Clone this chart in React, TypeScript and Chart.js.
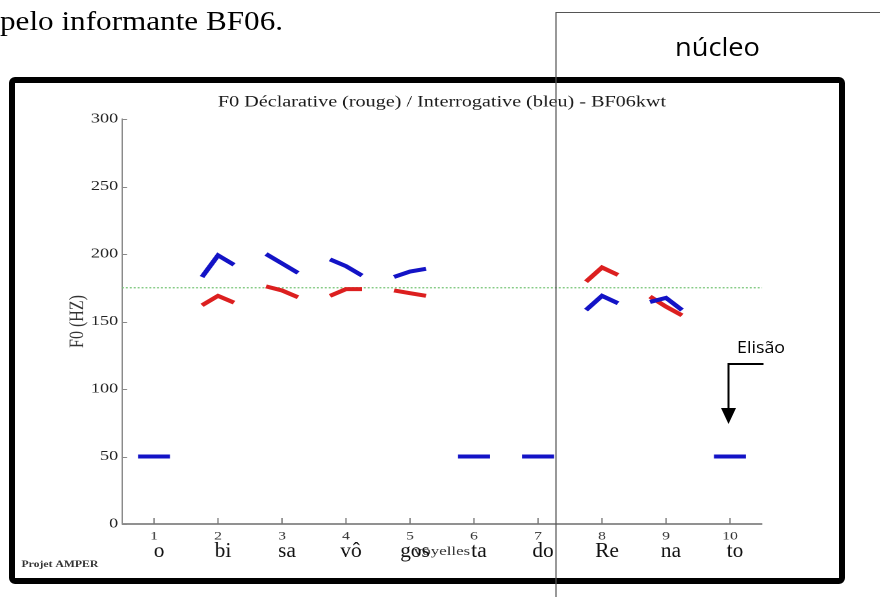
import React, { useEffect, useRef } from 'react';
import { Chart, registerables } from 'chart.js';

Chart.register(...registerables);

// ---- data ----
const syllables = ['o', 'bi', 'sa', 'vô', 'gos', 'ta', 'do', 'Re', 'na', 'to'];
const vowelTicks = [1, 2, 3, 4, 5, 6, 7, 8, 9, 10];
const yTickValues = [0, 50, 100, 150, 200, 250, 300];
// three F0 samples (start, middle, end) inside each vowel
const sampleOffsets = [-0.25, 0, 0.25];
// Déclarative (rouge)
const declarative: (number[] | null)[] = [
  null,
  [162, 169, 164],
  [176, 173, 168],
  [169, 174, 174],
  [173, 171, 169],
  null,
  null,
  [179.5, 190, 184.5],
  [168.5, 161, 154.5],
  null,
];
// Interrogative (bleu)
const interrogative: (number[] | null)[] = [
  [50, 50, 50],
  [183, 199, 192],
  [200, 193, 186],
  [196, 191, 184],
  [183, 187, 189],
  [50, 50, 50],
  [50, 50, 50],
  [158.5, 169, 163.5],
  [164.5, 167.5, 158.5],
  [50, 50, 50],
];
const referenceF0 = 175;
const xRange = [0.5, 10.5];
const yRange = [0, 300];

const TITLE = 'F0 Déclarative (rouge) / Interrogative (bleu) - BF06kwt';
const SERIF = '"Liberation Serif", "Times New Roman", serif';
const RED = '#dc1f1f';
const BLUE = '#1313c6';

// canvas is drawn narrower and stretched horizontally (like the reference picture)
const CANVAS_W = 677;
const PAGE_W = 880;
const PAGE_H = 597;
const S = PAGE_W / CANVAS_W;

function toPoints(values: (number[] | null)[]) {
  const pts: { x: number; y: number | null }[] = [];
  values.forEach((v, i) => {
    if (!v) return;
    const c = vowelTicks[i];
    v.forEach((y, k) => pts.push({ x: c + sampleOffsets[k], y }));
    pts.push({ x: c + 0.5, y: null });
  });
  return pts;
}

const decorPlugin = {
  id: 'decor',
  afterDraw(chart: any) {
    const { ctx, chartArea, scales } = chart;
    const x = scales.x;
    const y = scales.y;
    ctx.save();
    // inward tick marks
    ctx.lineWidth = 1;
    ctx.strokeStyle = '#888';
    y.ticks.forEach((t: any) => {
      const py = Math.round(y.getPixelForValue(t.value)) + 0.5;
      ctx.beginPath();
      ctx.moveTo(chartArea.left, py);
      ctx.lineTo(chartArea.left + 5 / S, py);
      ctx.stroke();
    });
    ctx.strokeStyle = '#777';
    x.ticks.forEach((t: any) => {
      const px = x.getPixelForValue(t.value);
      ctx.beginPath();
      ctx.moveTo(px, chartArea.bottom);
      ctx.lineTo(px, chartArea.bottom - 6);
      ctx.stroke();
    });
    // syllable labels (typed text, not stretched)
    ctx.fillStyle = '#111';
    ctx.font = `21px ${SERIF}`;
    ctx.textAlign = 'center';
    ctx.textBaseline = 'alphabetic';
    syllables.forEach((s, i) => {
      const px = x.getPixelForValue(vowelTicks[i]) + 5 / S;
      ctx.save();
      ctx.translate(px, 557);
      ctx.scale(1.02 / S, 1);
      ctx.fillText(s, 0, 0);
      ctx.restore();
    });
    // project credit
    ctx.fillStyle = '#333';
    ctx.font = `bold 9px ${SERIF}`;
    ctx.textAlign = 'left';
    ctx.fillText('Projet AMPER', 21.5 / S, 567);
    ctx.restore();
  },
};

export default function App() {
  const canvasRef = useRef<HTMLCanvasElement | null>(null);

  useEffect(() => {
    const canvas = canvasRef.current;
    if (!canvas) return;
    const chart = new Chart(canvas, {
      type: 'line',
      data: {
        datasets: [
          {
            label: 'Interrogative',
            data: toPoints(interrogative) as any,
            borderColor: BLUE,
            borderWidth: 4,
            pointRadius: 0,
            spanGaps: false,
            tension: 0,
            borderCapStyle: 'butt',
            borderJoinStyle: 'miter',
          },
          {
            label: 'Déclarative',
            data: toPoints(declarative) as any,
            borderColor: RED,
            borderWidth: 4,
            pointRadius: 0,
            spanGaps: false,
            tension: 0,
            borderCapStyle: 'butt',
            borderJoinStyle: 'miter',
          },
          {
            label: 'Référence',
            data: [
              { x: xRange[0], y: referenceF0 },
              { x: xRange[1], y: referenceF0 },
            ] as any,
            borderColor: '#74c474',
            borderWidth: 1.2,
            borderDash: [1.5, 1.5],
            pointRadius: 0,
          },
        ],
      },
      options: {
        animation: false,
        responsive: false,
        devicePixelRatio: 2,
        events: [],
        layout: {
          padding: { left: 45, right: CANVAS_W - 762 / S, top: 90, bottom: 30 },
        },
        plugins: {
          legend: { display: false },
          tooltip: { enabled: false },
          title: {
            display: true,
            text: TITLE,
            fullSize: false,
            color: '#1a1a1a',
            font: { family: SERIF, size: 15.5, weight: 'normal' },
            padding: { top: 3, bottom: 7.4 },
          },
        },
        scales: {
          x: {
            type: 'linear',
            position: 'bottom',
            min: xRange[0],
            max: xRange[1],
            grid: { display: false, drawTicks: false },
            border: { display: true, color: '#222', width: 1 },
            afterBuildTicks: (scale: any) => {
              scale.ticks = vowelTicks.map((v) => ({ value: v }));
            },
            ticks: {
              autoSkip: false,
              maxRotation: 0,
              color: '#333',
              padding: 5,
              font: { family: SERIF, size: 12 },
            },
            title: {
              display: true,
              text: 'voyelles',
              color: '#333',
              font: { family: SERIF, size: 13 },
              padding: { top: 0, bottom: 7.6 },
            },
            afterFit: (scale: any) => {
              scale.height = 43;
            },
          },
          y: {
            type: 'linear',
            min: yRange[0],
            max: yRange[1],
            grid: { display: false, drawTicks: false },
            border: { display: true, color: '#8a8a8a', width: 1 },
            afterBuildTicks: (scale: any) => {
              scale.ticks = yTickValues.map((v) => ({ value: v }));
            },
            ticks: {
              color: '#222',
              padding: 3,
              font: { family: SERIF, size: 14 },
            },
            title: {
              display: true,
              text: 'F0 (HZ)',
              color: '#333',
              font: { family: SERIF, size: 16 },
              padding: { top: 5, bottom: 0 },
            },
            afterFit: (scale: any) => {
              scale.width = 122 / S - 45;
            },
          },
        },
      } as any,
      plugins: [decorPlugin],
    });
    return () => chart.destroy();
  }, []);

  return (
    <div
      style={{
        position: 'absolute',
        left: 0,
        top: 0,
        width: PAGE_W,
        height: PAGE_H,
        overflow: 'hidden',
        background: '#fff',
      }}
    >
      <canvas
        ref={canvasRef}
        width={CANVAS_W}
        height={PAGE_H}
        style={{ position: 'absolute', left: 0, top: 0, width: `${PAGE_W}px`, height: `${PAGE_H}px` }}
      />
      <svg
        width={PAGE_W}
        height={PAGE_H}
        style={{ position: 'absolute', left: 0, top: 0, pointerEvents: 'none' }}
      >
        <text
          x={0}
          y={30}
          fontFamily={SERIF}
          fontSize={27}
          fill="#000"
          textLength={283}
          lengthAdjust="spacingAndGlyphs"
        >
          pelo informante BF06.
        </text>
        <rect x={12} y={80} width={830} height={501} rx={3} ry={3} fill="none" stroke="#000" strokeWidth={6} />
        <path d="M556 597 V12.5 H880" fill="none" stroke="#555" strokeWidth={1.2} />
        <text
          x={675}
          y={56}
          fontFamily='"Open Sans", "Noto Sans", sans-serif'
          fontSize={25}
          fill="#000"
          textLength={85}
          lengthAdjust="spacingAndGlyphs"
        >
          núcleo
        </text>
        <text
          x={737}
          y={353}
          fontFamily='"Open Sans", "Noto Sans", sans-serif'
          fontSize={16}
          fill="#000"
          textLength={48}
          lengthAdjust="spacingAndGlyphs"
        >
          Elisão
        </text>
        <path d="M763.5 364 H728.5 V410" fill="none" stroke="#000" strokeWidth={2} />
        <polygon points="721,408 736,408 728.5,424" fill="#000" />
      </svg>
    </div>
  );
}
